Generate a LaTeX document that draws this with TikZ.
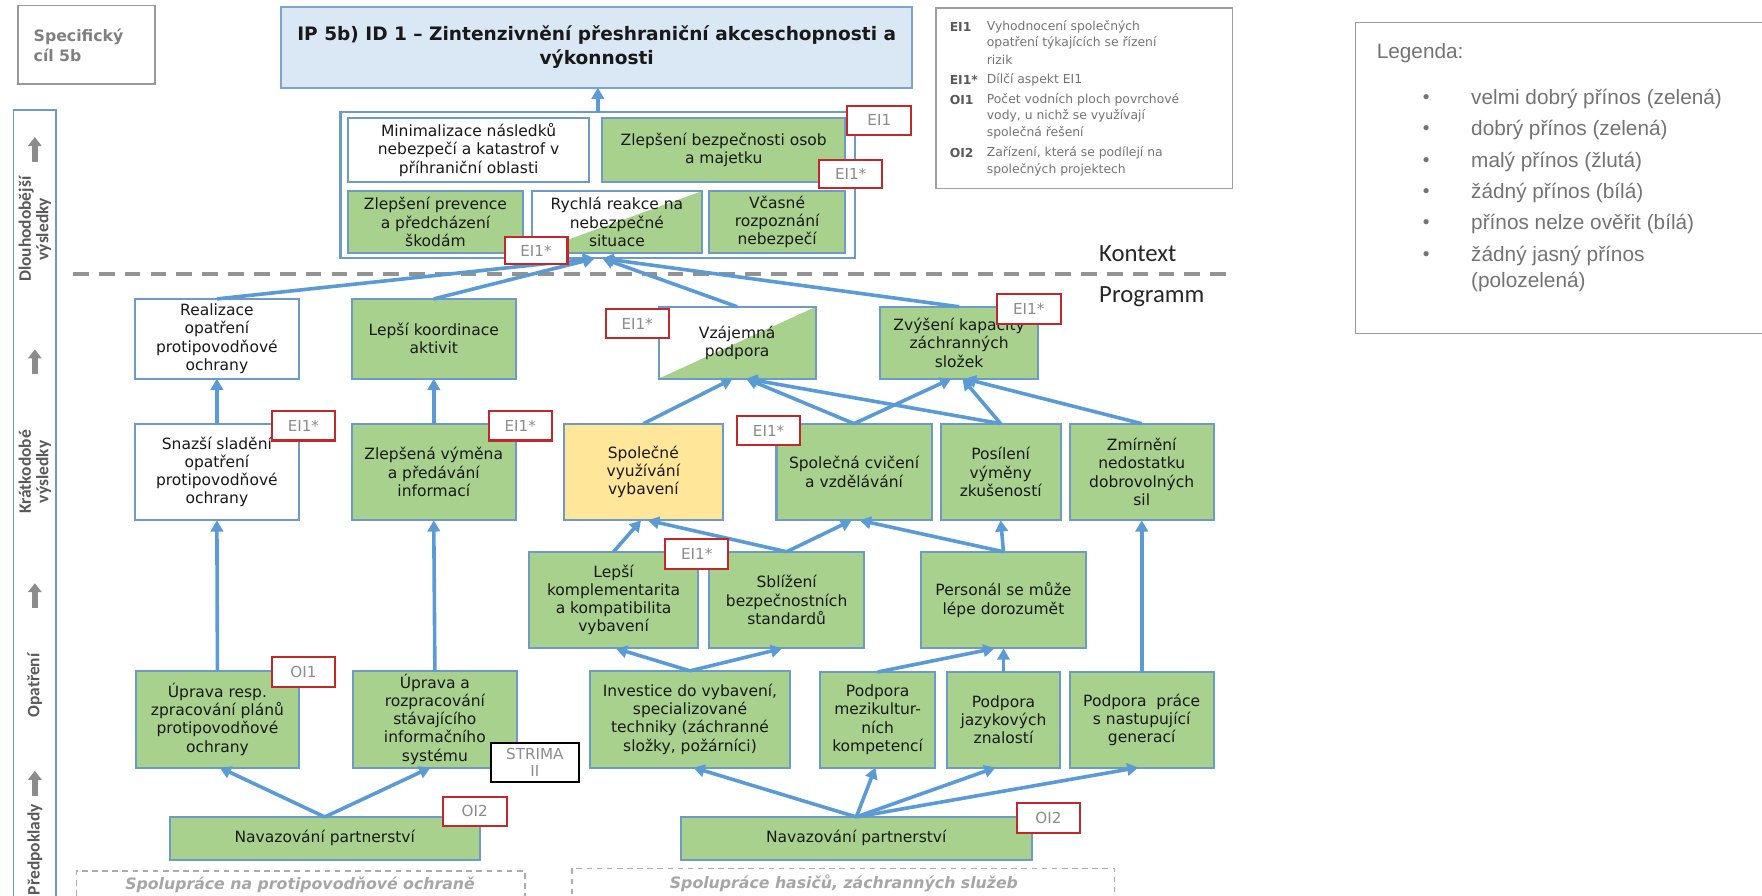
\documentclass[tikz,border=0pt]{standalone}
\usepackage{fontspec}
\setmainfont{DejaVu Sans}
\newfontfamily\libfont{Liberation Sans}
\newfontfamily\carlfont{Carlito}
\usetikzlibrary{arrows.meta,calc}
\definecolor{gfill}{HTML}{A9D18E}
\definecolor{bborder}{HTML}{6E9BC5}
\definecolor{tfill}{HTML}{DAE7F4}
\definecolor{arr}{HTML}{5B9BD5}
\definecolor{redb}{HTML}{C0282E}
\definecolor{taggray}{HTML}{8C8C8C}
\definecolor{yfill}{HTML}{FFE699}
\definecolor{bartext}{HTML}{595959}
\newcommand\boxat[7]{\node[#1, minimum width={#5-#3}, minimum height={#6-#4}] (#2) at ({(#3+#5)/2},{(#4+#6)/2}) {#7};}
\begin{document}
\begin{tikzpicture}[x=1pt,y=-1pt,
 bx/.style={draw=bborder, line width=1.8pt, outer sep=0pt, inner sep=0pt, align=center, font=\fontsize{13.8}{16.2}\selectfont, text=black!90},
 gbox/.style={bx, fill=gfill},
 wbox/.style={bx, fill=white},
 ybox/.style={bx, fill=yfill},
 hbox/.style={bx, fill=white, path picture={\fill[gfill] (path picture bounding box.south west) -- (path picture bounding box.south east) -- (path picture bounding box.north east) -- cycle;}},
 titlebox/.style={bx, fill=tfill, draw=bborder!90, font=\fontsize{16.5}{22}\selectfont\bfseries},
 tag/.style={draw=redb, line width=1.8pt, fill=white, inner sep=0pt, outer sep=0pt, font=\fontsize{13.5}{15}\selectfont, text=taggray, align=center},
 blacktag/.style={tag, draw=black},
 specbox/.style={draw=gray!80, line width=1.5pt, inner sep=0pt, outer sep=0pt, text width=94pt, align=left, font=\fontsize{14}{18}\selectfont\bfseries, text=gray},
 dashbox/.style={draw=gray!65, line width=1.3pt, dash pattern=on 5pt off 4pt, inner sep=0pt, outer sep=0pt, font=\fontsize{14}{15}\selectfont\bfseries\itshape, text=gray!70},
 con/.style={draw=arr, line width=3.2pt, -{Triangle[length=10pt,width=11pt]}},
 bararrow/.style={draw=gray!90, line width=5pt, -{Triangle[length=8pt,width=12pt]}},
 barlabel/.style={rotate=90, align=center, font=\fontsize{15.5}{15.5}\carlfont\bfseries, text=bartext},
 eilab/.style={anchor=west, inner sep=0pt, font=\fontsize{11}{13}\selectfont\bfseries, text=black!65},
 eitext/.style={anchor=west, inner sep=0pt, font=\fontsize{11}{13}\selectfont, text=black!55},
 legtext/.style={anchor=west, inner sep=0pt, font=\fontsize{18.5}{22}\libfont, text=black!55},
 ctxtext/.style={anchor=west, inner sep=0pt, font=\fontsize{22}{24}\carlfont, text=black!85},
]
\useasboundingbox (0,0) rectangle (1568,797);

% left column
\node[specbox, minimum width=122pt, minimum height=70pt] (spec) at (77,40) {Specifický\\cíl 5b};
\draw[draw=bborder, line width=1.5pt] (12,810) -- (12,98) -- (50,98) -- (50,810);
\node[barlabel] (lab1) at (31,204) {Dlouhodobější\\výsledky};
\node[barlabel] (lab2) at (31,420) {Krátkodobé\\výsledky};
\node[barlabel] (lab3) at (31,610) {Opatření};
\node[barlabel] (lab4) at (31,756) {Předpoklady};
\draw[bararrow] (31,144) -- (31,122);
\draw[bararrow] (31,333) -- (31,311);
\draw[bararrow] (31,541) -- (31,519);
\draw[bararrow] (31,708) -- (31,686);

% title
\boxat{titlebox}{title}{250}{6}{812}{78}{IP 5b) ID 1 – Zintenzivnění přeshraniční akceschopnosti a\\výkonnosti}

% context container
\boxat{wbox}{cont}{303}{100}{761}{230}{}
\boxat{wbox}{mini}{310}{105}{524}{162}{Minimalizace následků\\nebezpečí a katastrof v\\příhraniční oblasti}
\boxat{gbox}{bezp}{536}{105}{752}{162}{Zlepšení bezpečnosti osob\\a majetku}
\boxat{gbox}{prev}{310}{170}{465}{225}{Zlepšení prevence\\a předcházení\\škodám}
\boxat{hbox}{rych}{473}{170}{625}{225}{Rychlá reakce na\\nebezpečné\\situace}
\boxat{gbox}{vcas}{631}{170}{752}{225}{Včasné\\rozpoznání\\nebezpečí}

% separator
\draw[draw=gray!85, line width=3.5pt, dash pattern=on 14pt off 9pt] (65,244) -- (1095,244);
\node[ctxtext] (kontext) at (978,226) {Kontext};
\node[ctxtext] (programm) at (978,264) {Programm};

% long-term results
\boxat{wbox}{realiz}{120}{266}{266}{337}{Realizace\\opatření\\protipovodňové\\ochrany}
\boxat{gbox}{koord}{313}{266}{459}{337}{Lepší koordinace\\aktivit}
\boxat{hbox}{vzaj}{586}{273}{726}{337}{Vzájemná\\podpora}
\boxat{gbox}{zvys}{783}{273}{924}{337}{Zvýšení kapacity\\záchranných\\složek}

% short-term results
\boxat{wbox}{snaz}{120}{377}{266}{463}{Snazší sladění\\opatření\\protipovodňové\\ochrany}
\boxat{gbox}{zlep}{313}{377}{459}{463}{Zlepšená výměna\\a předávání\\informací}
\boxat{ybox}{spol}{502}{377}{643}{463}{Společné\\využívání\\vybavení}
\boxat{gbox}{cvic}{691}{377}{829}{463}{Společná cvičení\\a vzdělávání}
\boxat{gbox}{posil}{837}{377}{944}{463}{Posílení\\výměny\\zkušeností}
\boxat{gbox}{zmir}{952}{377}{1080}{463}{Zmírnění\\nedostatku\\dobrovolných\\sil}

\boxat{gbox}{kompl}{471}{491}{621}{577}{Lepší\\komplementarita\\a kompatibilita\\vybavení}
\boxat{gbox}{sbliz}{631}{491}{769}{577}{Sblížení\\bezpečnostních\\standardů}
\boxat{gbox}{pers}{820}{491}{966}{577}{Personál se může\\lépe dorozumět}

% measures
\boxat{gbox}{uprr}{121}{597}{266}{683}{Úprava resp.\\zpracování plánů\\protipovodňové\\ochrany}
\boxat{gbox}{upra}{314}{597}{460}{683}{Úprava a\\rozpracování\\stávajícího\\informačního\\systému}
\boxat{gbox}{inv}{525}{597}{703}{683}{Investice do vybavení,\\specializované\\techniky (záchranné\\složky, požárníci)}
\boxat{gbox}{mezi}{730}{598}{832}{683}{Podpora\\mezikultur-\\ních\\kompetencí}
\boxat{gbox}{jaz}{843}{598}{943}{683}{Podpora\\jazykových\\znalostí}
\boxat{gbox}{prace}{952}{598}{1080}{683}{Podpora~ práce\\s nastupující\\generací}

% prerequisites
\boxat{gbox}{navl}{151}{727}{427}{765}{Navazování partnerství}
\boxat{gbox}{navr}{606}{727}{918}{765}{Navazování partnerství}
\boxat{dashbox}{dl}{68}{775}{467}{815}{}
\node[dashbox, draw=none] (dltext) at (267,787) {Spolupráce na protipovodňové ochraně};
\boxat{dashbox}{dr}{509}{773}{992}{815}{}
\node[dashbox, draw=none] (drtext) at (751,786) {Spolupráce hasičů, záchranných služeb};

% connectors
\draw[con] (cont.north) -- (cont.north |- title.south);
\draw[con] (realiz.north) -- ($(cont.south)+(-3,0)$);
\draw[con] (koord.north) -- ($(cont.south)+(-3,0)$);
\draw[con] (vzaj.north) -- ($(cont.south)+(4,0)$);
\draw[con] (zvys.north) -- ($(cont.south)+(4,0)$);
\draw[con] (snaz.north) -- (realiz.south);
\draw[con] (zlep.north) -- (koord.south);
\draw[con] (spol.north) -- ($(vzaj.south)+(-4,0)$);
\draw[con] (cvic.north) -- ($(vzaj.south)+(8,0)$);
\draw[con] (posil.north) -- ($(vzaj.south)+(8,0)$);
\draw[con] (cvic.north) -- ($(zvys.south)+(-7,0)$);
\draw[con] (posil.north) -- ($(zvys.south)+(3,0)$);
\draw[con] (zmir.north) -- ($(zvys.south)+(5,0)$);
\draw[con] (kompl.north) -- ($(spol.south)+(-2,0)$);
\draw[con] (sbliz.north) -- ($(spol.south)+(4,0)$);
\draw[con] (sbliz.north) -- ($(cvic.south)+(-2,0)$);
\draw[con] (pers.north) -- ($(cvic.south)+(5,0)$);
\draw[con] (pers.north) -- (posil.south);
\draw[con] (inv.north) -- ($(kompl.south)+(2,0)$);
\draw[con] (inv.north) -- ($(sbliz.south)+(-4,0)$);
\draw[con] (mezi.north) -- ($(pers.south)+(-8,0)$);
\draw[con] (jaz.north) -- (pers.south);
\draw[con] (prace.north) -- (zmir.south);
\draw[con] (navr.north) -- ($(inv.south)+(3,0)$);
\draw[con] (navr.north) -- ($(mezi.south)+(-2,0)$);
\draw[con] (navr.north) -- ($(jaz.south)+(-7,0)$);
\draw[con] (navr.north) -- ($(prace.south)+(-3,0)$);
\draw[con] (navl.north) -- ($(uprr.south)+(2,0)$);
\draw[con] (navl.north) -- ($(upra.south)+(-4,0)$);
\draw[con] (uprr.north) -- (snaz.south);
\draw[con] (upra.north) -- (zlep.south);

% indicator tags
\boxat{tag}{t1}{754}{94}{811}{120}{EI1}
\boxat{tag}{t2}{729}{142}{785}{167}{EI1*}
\boxat{tag}{t3}{449}{211}{505}{235}{EI1*}
\boxat{tag}{t4}{539}{275}{595}{301}{EI1*}
\boxat{tag}{t5}{887}{262}{944}{288}{EI1*}
\boxat{tag}{t6}{242}{366}{298}{392}{EI1*}
\boxat{tag}{t7}{435}{366}{491}{392}{EI1*}
\boxat{tag}{t8}{656}{370}{712}{396}{EI1*}
\boxat{tag}{t9}{592}{480}{648}{506}{EI1*}
\boxat{tag}{t10}{242}{585}{298}{611}{OI1}
\boxat{tag}{t11}{394}{709}{451}{735}{OI2}
\boxat{tag}{t12}{905}{715}{961}{741}{OI2}
\boxat{blacktag}{t13}{437}{661}{515}{696}{STRIMA\\II}

% indicator legend
\draw[draw=gray!75, line width=1.2pt] (833,7) rectangle (1097,168);
\node[eilab] (l1) at (845,24) {EI1};
\node[eitext] (d1a) at (878,24) {Vyhodnocení společných};
\node[eitext] (d1b) at (878,38) {opatření týkajících se řízení};
\node[eitext] (d1c) at (878,53) {rizik};
\node[eilab] (l2) at (845,71) {EI1*};
\node[eitext] (d2a) at (878,71) {Dílčí aspekt EI1};
\node[eilab] (l3) at (845,89) {OI1};
\node[eitext] (d3a) at (878,89) {Počet vodních ploch povrchové};
\node[eitext] (d3b) at (878,103) {vody, u nichž se využívají};
\node[eitext] (d3c) at (878,118) {společná řešení};
\node[eilab] (l4) at (845,136) {OI2};
\node[eitext] (d4a) at (878,136) {Zařízení, která se podílejí na};
\node[eitext] (d4b) at (878,151) {společných projektech};

% colour legend
\draw[draw=gray!80, line width=1.3pt] (1580,20) -- (1206,20) -- (1206,297) -- (1580,297);
\node[legtext] (leg) at (1225,47) {Legenda:};
\foreach \yy/\tt in {88/velmi dobrý přínos (zelená), 116/dobrý přínos (zelená), 144/malý přínos (žlutá), 172/žádný přínos (bílá), 199/přínos nelze ověřit (bílá), 228/žádný jasný přínos}{
  \node[legtext, font=\fontsize{17}{17}\libfont] at (1266,\yy) {•};
  \node[legtext] at (1309,\yy) {\tt};
}
\node[legtext] (polo) at (1309,251) {(polozelená)};
\end{tikzpicture}
\end{document}
